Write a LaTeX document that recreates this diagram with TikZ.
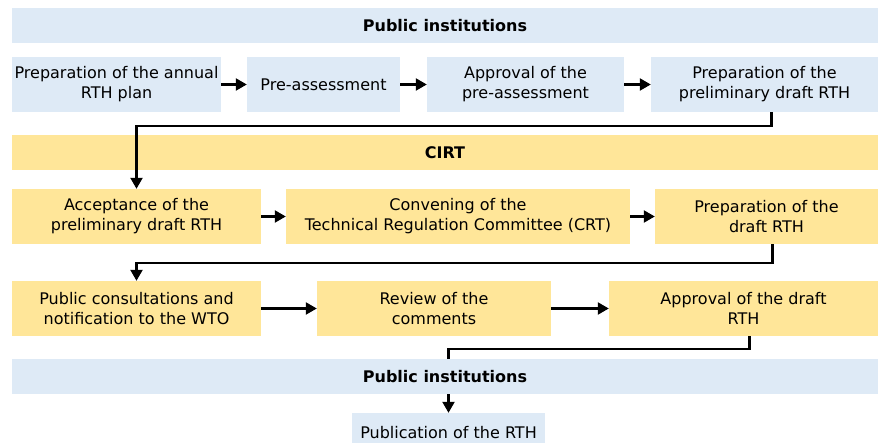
\documentclass[tikz,border=0pt]{standalone}
\usepackage{fontspec}
\setmainfont{DejaVu Sans}
\usepackage{xcolor}
\usetikzlibrary{shapes,arrows.meta,positioning,calc}
\definecolor{instblue}{RGB}{222,234,246}
\definecolor{cirtyellow}{RGB}{255,230,153}

\begin{document}
\begin{tikzpicture}[x=1pt,y=-1pt,
      every node/.style = {inner sep=0pt, align=center, font=\fontsize{16}{20}\selectfont},
      instbox/.style = {fill=instblue, minimum height=55pt},
      cirtbox/.style = {fill=cirtyellow, minimum height=55pt},
      banner/.style = {minimum width=866pt, minimum height=35pt, font=\fontsize{16}{20}\selectfont\bfseries},
      flow/.style = {-{Triangle[length=11pt,width=12pt]}, line width=2.2pt},
      link/.style = {line width=2.2pt}
    ]
    \useasboundingbox (0,0) rectangle (879,443);
    % public institutions
    \node[banner, fill=instblue] (inst) at (445,25.5) {Public institutions};
    \node[instbox, minimum width=209pt] (annual) at (116.5,84.5) {Preparation of the annual\\RTH plan};
    \node[instbox, minimum width=153pt] (preass) at (323.5,84.5) {Pre-assessment};
    \node[instbox, minimum width=197pt] (apprpre) at (525.5,84.5) {Approval of the\\pre-assessment};
    \node[instbox, minimum width=227pt] (prelim) at (764.5,84.5) {Preparation of the\\preliminary draft RTH};
    % CIRT
    \node[banner, fill=cirtyellow] (cirt) at (445,152.5) {CIRT};
    \node[cirtbox, minimum width=249pt] (accept) at (136.5,216.5) {Acceptance of the\\preliminary draft RTH};
    \node[cirtbox, minimum width=344pt] (convene) at (458,216.5) {Convening of the\\Technical Regulation Committee (CRT)};
    \node[cirtbox, minimum width=223pt] (draft) at (766.5,216.5) {Preparation of the\\draft RTH};
    \node[cirtbox, minimum width=249pt] (consult) at (136.5,308.5) {Public consultations and\\notification to the WTO};
    \node[cirtbox, minimum width=234pt] (review) at (434,308.5) {Review of the\\comments};
    \node[cirtbox, minimum width=269pt] (apprdraft) at (743.5,308.5) {Approval of the draft\\RTH};
    % back to public institutions
    \node[banner, fill=instblue] (inst2) at (445,376.5) {Public institutions};
    \node[instbox, minimum width=193pt, minimum height=40pt] (publish) at (448.5,433) {Publication of the RTH};

    \draw[flow] (annual) -- (preass);
    \draw[flow] (preass) -- (apprpre);
    \draw[flow] (apprpre) -- (prelim);
    \draw[flow] ([xshift=7pt]prelim.south) -- ++(0,14) -| (accept.north);
    \draw[flow] (accept) -- (convene);
    \draw[flow] (convene) -- (draft);
    \draw[flow] ([xshift=6pt]draft.south) -- ++(0,19) -| (consult.north);
    \draw[flow] (consult) -- (review);
    \draw[flow] (review) -- (apprdraft);
    \draw[link] ([xshift=6pt]apprdraft.south) -- ++(0,13) -| (inst2.north -| publish.north);
    \draw[flow] (inst2.south -| publish.north) -- (publish.north);
  \end{tikzpicture}
\end{document}
